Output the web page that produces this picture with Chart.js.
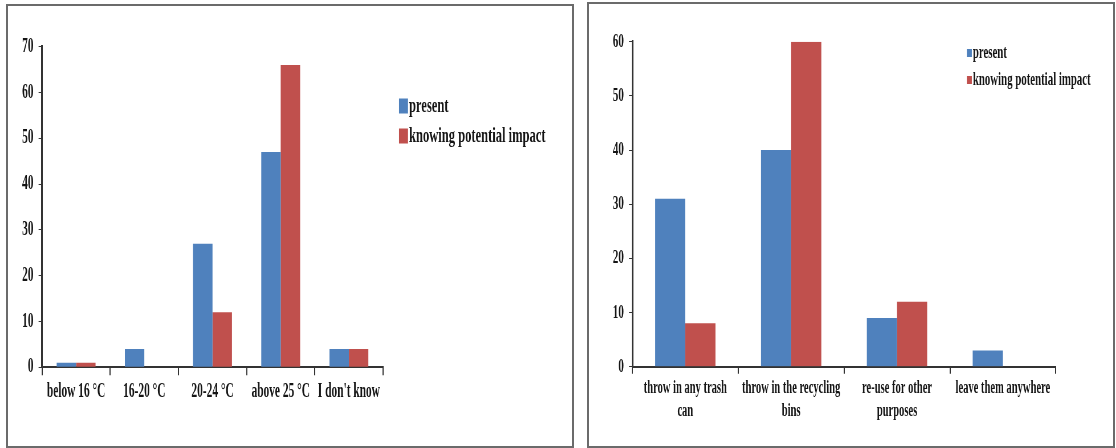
<!DOCTYPE html>
<html>
<head>
<meta charset="utf-8">
<script src="https://cdn.jsdelivr.net/npm/chart.js@4/dist/chart.umd.min.js"></script>
<style>
  html, body { margin: 0; padding: 0; background: #fff; }
  body { width: 1116px; height: 448px; position: relative; overflow: hidden; }
  .panel { position: absolute; border: 2px solid #6b6b6b; box-sizing: border-box; background: #fff; }
  #panelTemp { left: 6px; top: 4px; width: 568px; height: 444px; }
  #panelWaste { left: 587px; top: 2px; width: 528px; height: 446px; }
  canvas { position: absolute; }
</style>
</head>
<body>
<div class="panel" id="panelTemp"></div>
<div class="panel" id="panelWaste"></div>
<canvas id="chartTemp"></canvas>
<canvas id="chartWaste"></canvas>
<script>
// ---- data ----
const seriesNames = ['present', 'knowing potential impact'];
const seriesColors = ['#4F81BD', '#C0504D'];

const tempCategories = ['below 16 °C', '16-20 °C', '20-24 °C', 'above 25 °C', "I don't know"];
const tempPresent = [1, 4, 27, 47, 4];
const tempKnowing = [1, 0, 12, 66, 4];
const tempAxisMax = 70;
const tempAxisStep = 10;

const wasteCategories = [
  ['throw in any trash', 'can'],
  ['throw in the recycling', 'bins'],
  ['re-use for other', 'purposes'],
  ['leave them anywhere']
];
const wastePresent = [31, 40, 9, 3];
const wasteKnowing = [8, 60, 12, 0];
const wasteAxisMax = 60;
const wasteAxisStep = 10;

// ---- drawing ----
// The canvas is drawn wider than it is shown, which gives the narrow, condensed type.
const SQUEEZE = 0.57;
const rx = d => d / SQUEEZE;
const SERIF = "'Liberation Serif', 'Times New Roman', serif";
const INK = '#151515';
const AXIS = '#333333';

function setupCanvas(id, left, top, w, h) {
  const c = document.getElementById(id);
  c.width = Math.round(w / SQUEEZE);
  c.height = h;
  c.style.left = left + 'px';
  c.style.top = top + 'px';
  c.style.width = w + 'px';
  c.style.height = h + 'px';
  return c;
}

// Legend with the boxes drawn straight from the datasets' labels and colours
const cornerLegend = {
  id: 'cornerLegend',
  afterDraw(chart, args, o) {
    const ctx = chart.ctx;
    ctx.save();
    ctx.font = o.font;
    ctx.textBaseline = 'middle';
    ctx.textAlign = 'left';
    chart.data.datasets.forEach((ds, i) => {
      const cy = o.y + i * o.step;
      ctx.fillStyle = ds.backgroundColor;
      ctx.fillRect(o.x, cy - o.boxH / 2, o.boxW, o.boxH);
      ctx.fillStyle = INK;
      ctx.fillText(ds.label, o.textX, cy);
    });
    ctx.restore();
  }
};

function buildChart(cfg) {
  const canvas = setupCanvas(cfg.id, cfg.left, cfg.top, cfg.w, cfg.h);
  const renderW = canvas.width;
  return new Chart(canvas, {
    type: 'bar',
    data: {
      labels: cfg.labels,
      datasets: [
        { label: seriesNames[0], data: cfg.present, backgroundColor: seriesColors[0] },
        { label: seriesNames[1], data: cfg.knowing, backgroundColor: seriesColors[1] }
      ]
    },
    options: {
      responsive: false,
      animation: false,
      devicePixelRatio: 1,
      categoryPercentage: 0.57,
      barPercentage: 1.0,
      layout: {
        padding: { left: 0, top: cfg.plotTop, right: renderW - rx(cfg.plotRight), bottom: 0 }
      },
      plugins: {
        legend: { display: false },
        tooltip: { enabled: false },
        cornerLegend: cfg.legend
      },
      scales: {
        x: {
          grid: { display: true, offset: true, drawOnChartArea: false, drawTicks: true,
                  tickLength: cfg.xTickLen, color: AXIS, lineWidth: 2 },
          border: { display: true, color: AXIS, width: 2 },
          ticks: { color: INK, padding: cfg.xPad, maxRotation: 0, minRotation: 0, autoSkip: false,
                   font: { family: SERIF, weight: 'bold', size: cfg.xFont, lineHeight: cfg.xLine } },
          afterFit(scale) { scale.height = cfg.h - cfg.plotTop - cfg.plotH; }
        },
        y: {
          min: 0, max: cfg.max,
          grid: { display: true, drawOnChartArea: false, drawTicks: true, tickLength: 6,
                  color: AXIS, lineWidth: 1 },
          border: { display: true, color: AXIS, width: 3 },
          ticks: { stepSize: cfg.step, color: INK, padding: 9,
                   font: { family: SERIF, weight: 'bold', size: cfg.yFont } },
          afterFit(scale) { scale.width = rx(cfg.axisX); }
        }
      }
    },
    plugins: [cornerLegend]
  });
}

// Preferred temperature chart
buildChart({
  id: 'chartTemp', left: 8, top: 6, w: 562, h: 440,
  labels: tempCategories, present: tempPresent, knowing: tempKnowing,
  max: tempAxisMax, step: tempAxisStep,
  axisX: 34, plotRight: 375, plotTop: 40.7, plotH: 320.6,
  xFont: 20, xLine: 1.2, xPad: 5, xTickLen: 8, yFont: 20,
  legend: { x: rx(391), textX: rx(401), y: 100, step: 30, boxW: rx(9), boxH: 15,
            font: 'bold 22px ' + SERIF }
});

// Disposal chart
buildChart({
  id: 'chartWaste', left: 589, top: 4, w: 523, h: 442,
  labels: wasteCategories, present: wastePresent, knowing: wasteKnowing,
  max: wasteAxisMax, step: wasteAxisStep,
  axisX: 43.4, plotRight: 467, plotTop: 37.7, plotH: 325,
  xFont: 18.5, xLine: 1.19, xPad: 4, xTickLen: 7, yFont: 19.5,
  legend: { x: rx(378), textX: rx(384), y: 49, step: 27, boxW: rx(5), boxH: 8,
            font: 'bold 19px ' + SERIF }
});
</script>
</body>
</html>
